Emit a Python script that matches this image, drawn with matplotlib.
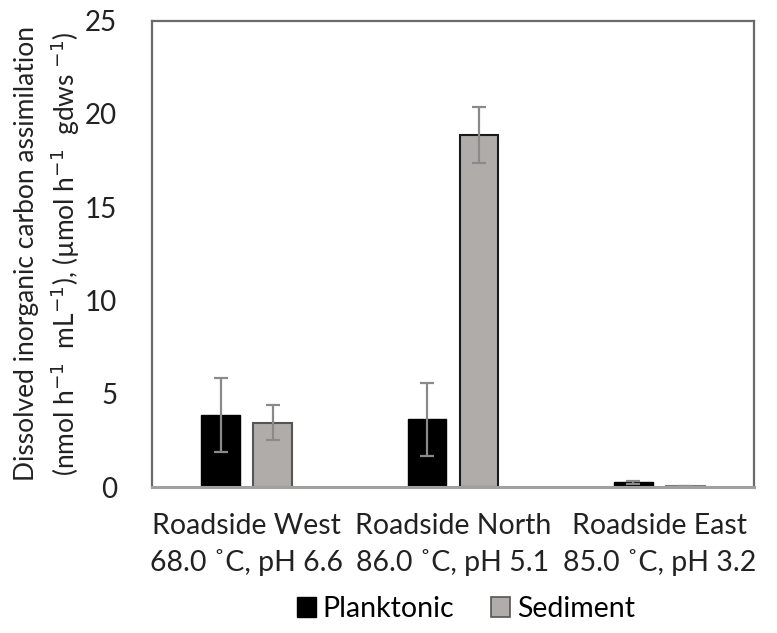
import matplotlib
matplotlib.use("Agg")
import matplotlib.pyplot as plt
import numpy as np
from matplotlib.patches import Patch

plt.rcParams['font.family'] = ['Lato', 'DejaVu Sans']

categories = ["Roadside West\n68.0 ˚C, pH 6.6", "Roadside North\n86.0 ˚C, pH 5.1", "Roadside East\n85.0 ˚C, pH 3.2"]
planktonic = [3.85, 3.62, 0.25]
planktonic_err = [2.0, 1.95, 0.08]
sediment = [3.45, 18.88, 0.03]
sediment_err = [0.93, 1.5, 0.01]
yticks = [0, 5, 10, 15, 20, 25]

W, H = 777, 633
fig = plt.figure(figsize=(W/100, H/100), dpi=100)
ax = fig.add_axes([152/W, (H-487)/H, (754-152)/W, (487-20.5)/H])

x = np.arange(len(categories))
bw = 0.187
off = 0.126
ekw = dict(ecolor='#8a8a8a', elinewidth=1.6, capsize=5, capthick=1.6)
ax.bar(x - off, planktonic, bw, color='black', edgecolor='black', linewidth=1.0,
       yerr=planktonic_err, error_kw=ekw, label='Planktonic', zorder=2)
ax.bar(x + off, sediment, bw, color='#b0acaa', edgecolor=['#555555', '#1a1a1a', '#7a7a7a'], linewidth=1.5,
       yerr=sediment_err, error_kw=ekw, label='Sediment', zorder=2)

fs = 19
ax.set_xlim(-0.458, 2.458)
ax.set_ylim(0, 25)
ax.set_yticks(yticks)
ax.set_yticklabels([str(t) for t in yticks], fontsize=20, color='#222222')
ax.set_xticks(x)
ax.set_xticklabels(categories, fontsize=20.5, color='#222222', linespacing=1.45)
ax.tick_params(axis='y', length=0, pad=25)
ax.tick_params(axis='x', length=0, pad=19)

for s in ['left', 'top', 'right']:
    ax.spines[s].set_color('#6a6a6a')
    ax.spines[s].set_linewidth(1.6)
ax.spines['bottom'].set_color('#a0a0a0')
ax.spines['bottom'].set_linewidth(2.2)
ax.spines['bottom'].set_zorder(3)

ax.set_ylabel("Dissolved inorganic carbon assimilation\n(nmol h$^{-1}$  mL$^{-1}$), (µmol h$^{-1}$  gdws $^{-1}$)",
              fontsize=fs, color='#222222', linespacing=1.38, labelpad=2)

handles = [Patch(facecolor='black', edgecolor='black'),
           Patch(facecolor='#b0acaa', edgecolor='#555555', linewidth=1.2)]
fig.legend(handles, ['Planktonic', 'Sediment'], loc='center', bbox_to_anchor=(466/W, (H-609)/H),
           ncol=2, frameon=False, fontsize=20.5, handlelength=0.65, handleheight=0.65,
           handletextpad=0.25, columnspacing=1.3)

fig.savefig('out.png', dpi=100)
